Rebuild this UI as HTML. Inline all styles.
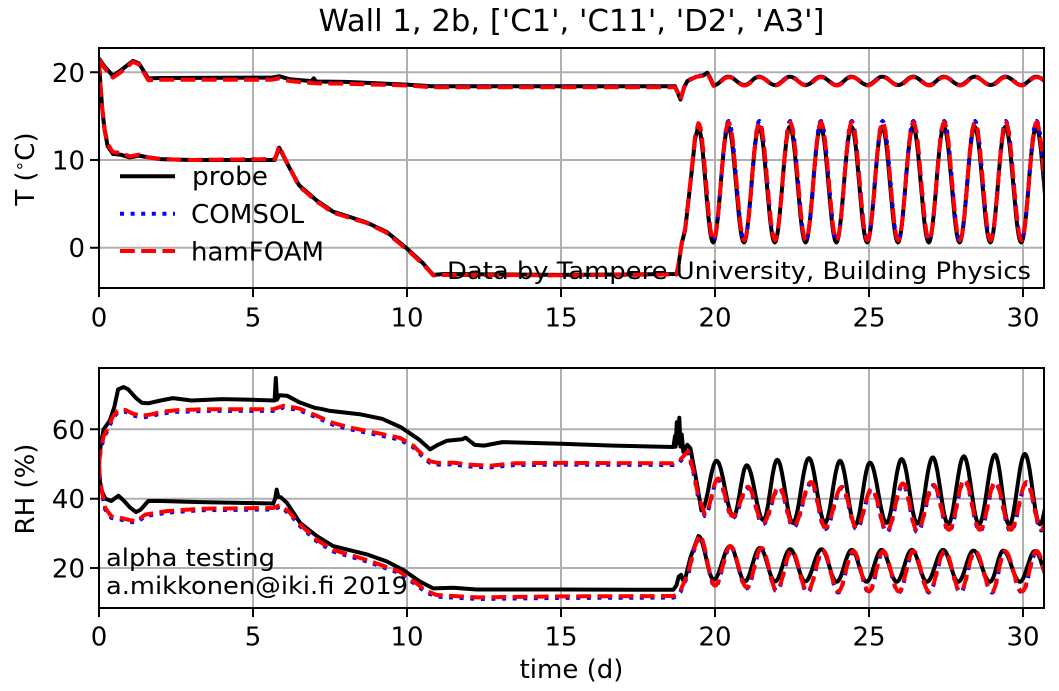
<!DOCTYPE html>
<html><head><meta charset="utf-8"><style>
html,body{margin:0;padding:0;background:#fff;}
svg{display:block;font-family:"DejaVu Sans","Liberation Sans",sans-serif;}
</style></head><body>
<svg id="c" width="1059" height="691" viewBox="0 0 1059 691" xmlns="http://www.w3.org/2000/svg">
<rect width="1059" height="691" fill="#fff"/>
<defs>
<clipPath id="ca"><rect x="99" y="48" width="945" height="240"/></clipPath>
<clipPath id="cb"><rect x="99" y="368" width="945" height="240"/></clipPath>
</defs>
<g stroke="#b0b0b0" stroke-width="2" fill="none">
<path d="M253 48V288M407 48V288M561 48V288M715 48V288M869 48V288M1023 48V288M99 72.3H1044M99 160H1044M99 247.7H1044"/>
<path d="M253 368V608M407 368V608M561 368V608M715 368V608M869 368V608M1023 368V608M99 429.3H1044M99 498.7H1044M99 568H1044"/>
</g>
<g id="la" clip-path="url(#ca)" fill="none" stroke-linejoin="round"></g>
<g id="lb" clip-path="url(#cb)" fill="none" stroke-linejoin="round"></g>
<g fill="none" stroke="#000" stroke-width="2">
<rect x="99" y="48" width="945" height="240"/>
<rect x="99" y="368" width="945" height="240"/>
<path d="M99 288V297M253 288V297M407 288V297M561 288V297M715 288V297M869 288V297M1023 288V297M90 72.3H99M90 160H99M90 247.7H99"/>
<path d="M99 608V617M253 608V617M407 608V617M561 608V617M715 608V617M869 608V617M1023 608V617M90 429.3H99M90 498.7H99M90 568H99"/>
</g>
<g font-size="26" fill="#000" text-anchor="middle">
<text x="99" y="326.5">0</text><text x="253" y="326.5">5</text><text x="407" y="326.5">10</text><text x="561" y="326.5">15</text><text x="715" y="326.5">20</text><text x="869" y="326.5">25</text><text x="1023" y="326.5">30</text>
<text x="99" y="645.5">0</text><text x="253" y="645.5">5</text><text x="407" y="645.5">10</text><text x="561" y="645.5">15</text><text x="715" y="645.5">20</text><text x="869" y="645.5">25</text><text x="1023" y="645.5">30</text>
</g>
<g font-size="26" fill="#000" text-anchor="end">
<text x="85" y="81.8">20</text><text x="85" y="169.5">10</text><text x="85" y="257.2">0</text>
<text x="85" y="438.8">60</text><text x="85" y="508.2">40</text><text x="85" y="577.5">20</text>
</g>
<text x="571.5" y="31" font-size="30" text-anchor="middle" textLength="506" lengthAdjust="spacingAndGlyphs">Wall 1, 2b, ['C1', 'C11', 'D2', 'A3']</text>
<text x="571.5" y="678" font-size="26" text-anchor="middle">time (d)</text>
<text transform="translate(34,169) rotate(-90)" font-size="26" text-anchor="middle">T (<tspan font-size="17" dy="-9">∘</tspan><tspan dy="9">C)</tspan></text>
<text transform="translate(34,489) rotate(-90)" font-size="26" text-anchor="middle">RH (%)</text>
<!-- legend -->
<g fill="none" stroke-width="4">
<path d="M120 176.3H175" stroke="#000"/>
<path d="M120 213.8H175" stroke="#0000ff" stroke-dasharray="4 6.6"/>
<path d="M120 251H175" stroke="#ff0000" stroke-dasharray="14.8 6.4"/>
</g>
<g font-size="26" fill="#000">
<text x="192" y="185" textLength="76" lengthAdjust="spacingAndGlyphs">probe</text>
<text x="191" y="223" textLength="113" lengthAdjust="spacingAndGlyphs">COMSOL</text>
<text x="191" y="260.5" textLength="133" lengthAdjust="spacingAndGlyphs">hamFOAM</text>
</g>
<g fill="#000">
<text x="447" y="279" font-size="24" textLength="584" lengthAdjust="spacingAndGlyphs">Data by Tampere University, Building Physics</text>
<text x="106" y="566" font-size="24" textLength="169" lengthAdjust="spacingAndGlyphs">alpha testing</text>
<text x="106" y="594" font-size="24" textLength="302" lengthAdjust="spacingAndGlyphs">a.mikkonen@iki.fi 2019</text>
</g>
</svg>
<script>
(function(){
const NS="http://www.w3.org/2000/svg";
const X=t=>99+t*30.8, YT=v=>247.7-v*8.77, YR=v=>637.3-v*3.467;
function path(keys, ext, Y){
  const pts=keys.map(p=>[X(p[0]),Y(p[1])]);
  if(ext){for(let i=0;i<ext.length-1;i++){const a=ext[i],b=ext[i+1];
    for(let k=1;k<=16;k++){const s=k/16;const t=a[0]+(b[0]-a[0])*s;
      const v=a[1]+(b[1]-a[1])*(1-Math.cos(Math.PI*s))/2;pts.push([X(t),Y(v)]);}}}
  return 'M'+pts.map(p=>p[0].toFixed(1)+' '+p[1].toFixed(1)).join('L');
}
function add(g,d,kind){
  const p=document.createElementNS(NS,'path');p.setAttribute('d',d);
  p.setAttribute('stroke-width','4');
  if(kind==='k'){p.setAttribute('stroke','#000');}
  else if(kind==='b'){p.setAttribute('stroke','#0000ff');p.setAttribute('stroke-dasharray','4 6.6');}
  else {p.setAttribute('stroke','#ff0000');p.setAttribute('stroke-dasharray','14.8 6.4');}
  g.appendChild(p);
}
function shift(keys,dv){return keys.map(p=>[p[0],p[1]+dv]);}
function alt(start,t1,v1,v2,off,tEnd){const e=[start];for(let t=t1;t<tEnd+1.2;t+=1.0){e.push([t,v1]);e.push([t+off,v2]);}return e;}

/* ---------- TOP: temperature ---------- */
const A_k=[[0,21.6],[0.15,20.8],[0.45,19.6],[0.7,20.2],[1.1,21.3],[1.3,21.0],[1.6,19.3],[2,19.35],[5.6,19.4],[5.85,19.55],[6.2,19.2],[6.9,19.0],[6.97,19.3],[7.05,18.95],[8,18.9],[9,18.75],[10,18.6],[10.8,18.4],[18.7,18.4],[18.8,17.6],[18.88,16.9],[19.0,18.3],[19.1,19.0],[19.4,19.5],[19.6,19.6],[19.75,19.95],[19.85,19.3],[19.95,18.5]];
const A_r=[[0,21.5],[0.15,20.6],[0.45,19.4],[0.7,20.0],[1.1,21.2],[1.3,20.9],[1.6,19.1],[2,19.15],[5.6,19.15],[5.85,19.3],[6.2,19.0],[7,18.75],[8,18.7],[9,18.6],[10,18.5],[10.8,18.3],[18.7,18.3],[18.8,17.6],[18.88,16.9],[19.0,18.3],[19.1,19.0],[19.4,19.5],[19.6,19.6],[19.75,19.9],[19.85,19.2],[19.95,18.45]];
const A_ke=alt([19.95,18.5],20.43,19.5,18.55,0.52,30.7);
const A_re=alt([19.95,18.45],20.44,19.45,18.5,0.52,30.7);
const B_k=[[0,21.4],[0.04,19],[0.1,16],[0.18,13.5],[0.28,11.6],[0.45,10.7],[0.7,10.6],[1.0,10.3],[1.3,10.5],[1.6,10.3],[2.0,10.1],[3,10.0],[5.7,10.0],[5.76,10.5],[5.85,11.4],[5.95,10.7],[6.2,9.0],[6.5,7.1],[7.06,5.4],[7.6,4.1],[8.15,3.5],[8.7,2.85],[9.34,1.8],[10.0,-0.1],[10.53,-1.8],[10.85,-3.1],[11.2,-3.0],[15,-3.1],[18.75,-3.0],[18.82,-1.8],[18.92,0.5],[19.03,2.0],[19.2,7.3],[19.35,12.3],[19.45,13.8]];
const B_r=[[0,21.3],[0.04,19],[0.1,16],[0.18,13.6],[0.28,11.8],[0.45,10.9],[0.7,10.8],[1.0,10.4],[1.3,10.6],[1.6,10.3],[2.0,10.1],[3,10.0],[5.7,10.1],[5.76,10.6],[5.85,11.6],[5.95,10.8],[6.2,9.0],[6.5,7.0],[7.06,5.3],[7.6,4.0],[8.15,3.4],[8.7,2.8],[9.34,1.7],[10.0,-0.2],[10.53,-1.9],[10.85,-3.15],[11.2,-3.1],[15,-3.15],[18.75,-3.05],[18.82,-1.8],[18.92,0.5],[19.03,2.1],[19.2,7.5],[19.35,12.6],[19.46,14.2]];
const B_ke=alt([19.45,13.8],19.94,0.6,13.8,0.49,30.7);
const B_re=alt([19.46,14.2],19.95,0.85,14.3,0.49,30.7);
const B_be=alt([19.46,14.3],19.95,0.75,14.45,0.49,30.7);
const ga=document.getElementById('la');
add(ga,path(A_k,A_ke,YT),'k');add(ga,path(B_k,B_ke,YT),'k');
add(ga,path(shift(A_r,0.05),A_re.map(p=>[p[0],p[1]+0.05]),YT),'b');
add(ga,path(B_r,B_be,YT),'b');
add(ga,path(A_r,A_re,YT),'r');add(ga,path(B_r,B_re,YT),'r');

/* ---------- BOTTOM: RH ---------- */
const U_k=[[0,50],[0.05,55],[0.15,60],[0.35,62.5],[0.5,66.5],[0.62,71.5],[0.8,72.2],[0.95,71.5],[1.2,69],[1.4,67.6],[1.6,67.5],[2.0,68.3],[2.4,69.0],[3,68.3],[4,68.7],[5,68.5],[5.7,68.3],[5.74,74.8],[5.78,68.5],[5.85,69.8],[6.1,69.7],[6.5,67.8],[7.0,66.2],[7.2,65.9],[7.5,65.3],[8.5,64.3],[9.2,63.0],[9.8,60.6],[10.4,57.0],[10.75,54.2],[11.0,55.5],[11.3,56.7],[11.8,57.1],[11.9,57.6],[12.2,55.5],[12.5,55.3],[13.1,56.3],[15,55.8],[16.7,55.3],[18.65,54.9],[18.7,58],[18.72,55],[18.76,62],[18.8,56],[18.84,63.3],[18.88,55],[18.92,58.5],[18.97,53.5],[19.1,55.5],[19.2,54.5],[19.4,45],[19.56,36.6]];
const U_ke=[[19.56,36.6],[20.05,50.9],[20.6,34.9],[21.03,49.6],[21.57,33.8],[22.02,51.2],[22.53,33.0],[23.05,51.7],[23.57,33.0],[24.06,50.9],[24.55,32.4],[25.03,50.4],[25.57,33.0],[26.06,51.4],[26.57,32.8],[27.07,51.9],[27.57,32.6],[28.08,52.2],[28.57,32.6],[29.09,52.7],[29.55,32.4],[30.06,52.9],[30.55,32.6],[31.05,52.5]];
const U_r=[[0,50],[0.05,54],[0.15,58],[0.3,60.5],[0.45,63.7],[0.6,65.3],[0.85,65.6],[1.1,64.5],[1.4,63.9],[1.7,64.3],[2.0,65.0],[2.5,65.5],[3.5,65.8],[5.66,65.8],[6.0,66.8],[6.5,66.0],[7.07,63.9],[7.6,61.8],[8.15,60.5],[9.2,58.6],[9.77,57.5],[10.2,55.3],[10.6,51.8],[10.75,50.8],[11.0,50.3],[11.5,50.4],[12.0,49.8],[12.7,49.5],[13.5,50.2],[15,50.3],[18.65,50.2],[18.85,51.0],[19.0,52.5],[19.13,53.7],[19.3,48],[19.45,41],[19.67,35.5]];
const U_re=[[19.67,35.5],[20.1,45.8],[20.58,34.9],[21.07,43.4],[21.56,33.0],[22.08,43.4],[22.55,32.1],[23.12,44.8],[23.58,31.6],[24.12,43.4],[24.6,31.6],[25.09,42.9],[25.58,30.7],[26.1,44.4],[26.57,30.7],[27.09,44.0],[27.6,31.0],[28.1,45.5],[28.6,31.0],[29.1,44.8],[29.6,31.0],[30.12,44.8],[30.6,31.2],[31.1,45.0]];
const L_k=[[0,50],[0.03,45],[0.1,42],[0.2,40],[0.4,39.3],[0.63,40.8],[0.8,39.5],[1.0,37.5],[1.2,36.1],[1.35,36.8],[1.6,39.3],[2.0,39.3],[3.3,39.0],[5.66,38.6],[5.72,40],[5.77,42.6],[5.82,40.5],[5.9,40.4],[6.1,38.8],[6.53,33.0],[7.07,29.2],[7.6,26.3],[8.7,23.9],[9.34,21.9],[9.88,19.4],[10.42,16.1],[10.85,14.1],[11.5,14.3],[12.26,13.8],[15,13.8],[18.65,13.7],[18.75,15],[18.82,17.5],[18.9,18],[18.95,16.6],[19.05,17.5],[19.2,23],[19.46,29.2]];
const L_ke=[[19.46,29.2],[19.96,16.6],[20.49,26.3],[20.97,16.1],[21.46,25.8],[21.95,16.1],[22.44,25.4],[22.93,16.1],[23.46,25.4],[23.95,16.0],[24.44,25.2],[24.92,16.0],[25.41,25.2],[25.9,16.0],[26.39,25.2],[26.88,16.0],[27.41,25.2],[27.9,16.0],[28.39,25.0],[28.93,16.0],[29.36,25.0],[29.9,16.0],[30.39,24.9],[30.88,16.0]];
const L_r=[[0,50],[0.03,46],[0.08,42.6],[0.2,37.3],[0.4,34.9],[0.7,34.4],[1.0,33.8],[1.22,33.5],[1.5,35.4],[2.2,36.4],[3.3,37.1],[5.66,37.3],[5.88,38.2],[6.2,35.9],[6.53,32.5],[7.07,28.1],[7.6,25.2],[8.7,22.3],[9.77,18.9],[10.3,15.6],[10.6,13.5],[10.96,12.2],[12.3,11.5],[15,11.8],[18.65,11.9],[18.75,12.3],[18.88,13.5],[19.0,16],[19.13,18.4],[19.3,25],[19.49,29.5]];
const L_re=[[19.49,29.5],[20.0,14.9],[20.5,26.3],[21.03,14.4],[21.51,25.8],[22.0,13.6],[22.49,25.0],[23.0,13.2],[23.51,25.0],[24.0,13.2],[24.49,24.9],[25.0,13.2],[25.46,24.9],[25.97,13.2],[26.44,24.9],[26.95,13.2],[27.46,24.9],[27.97,13.2],[28.44,24.9],[29.0,13.2],[29.41,24.9],[29.97,13.2],[30.44,24.9],[30.95,13.2]];
const gb=document.getElementById('lb');
add(gb,path(U_k,U_ke,YR),'k');add(gb,path(L_k,L_ke,YR),'k');
add(gb,path(shift(U_r,-0.5),shift(U_re,-0.4),YR),'b');
add(gb,path(shift(L_r,-0.45),shift(L_re,-0.3),YR),'b');
add(gb,path(U_r,U_re,YR),'r');add(gb,path(L_r,L_re,YR),'r');
})();
</script>
</body></html>
